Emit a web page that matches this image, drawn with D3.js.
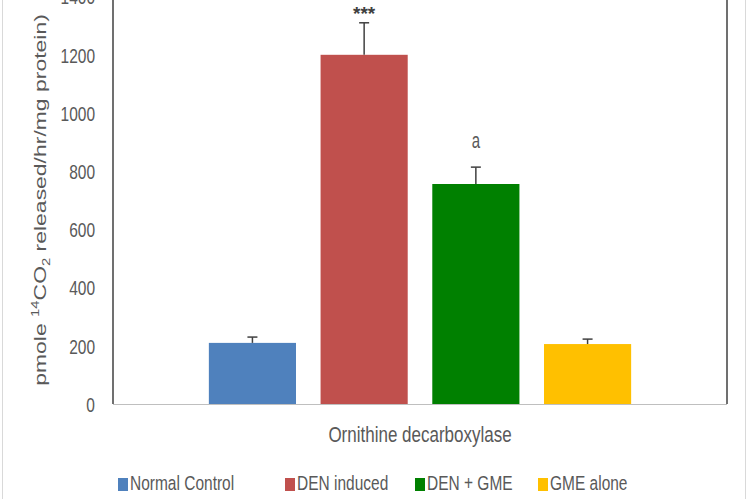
<!DOCTYPE html>
<html>
<head>
<meta charset="utf-8">
<script src="https://cdn.jsdelivr.net/npm/d3@7"></script>
<style>
  html, body { margin: 0; padding: 0; background: #fff; }
  svg { display: block; }
  text { font-family: "Liberation Sans", Arial, sans-serif; }
</style>
</head>
<body>
<svg id="chart" width="750" height="499"></svg>
<script>
// ---- data ----
const categories = ["Normal Control", "DEN induced", "DEN + GME", "GME alone"];
const values = [210, 1200, 756, 206];
const errors = [20, 110, 58, 17];
const sigLabels = ["", "***", "a", ""];
const yTicks = [0, 200, 400, 600, 800, 1000, 1200, 1400];
const groupLabel = "Ornithine decarboxylase";
const colors = ["#4f81bd", "#c0504d", "#008000", "#ffc000"];

// ---- layout ----
const W = 750, H = 499;
const plot = { left: 113, right: 727, top: -3.4, bottom: 404 };
const SY = 1.35; // vertical stretch of text in the reference
const textGray = "#595959";
const axisDark = "#404040";
const legendX = [118, 285, 415, 538];
const legendY = 490;

const svg = d3.select("#chart");

// outer frame
svg.append("rect")
  .attr("x", 2.5).attr("y", -2).attr("width", 743).attr("height", H + 4)
  .attr("fill", "none").attr("stroke", "#d9d9d9").attr("stroke-width", 1);

const x = d3.scaleBand()
  .domain(categories)
  .range([plot.left, plot.right])
  .paddingInner(0.22)
  .paddingOuter(0.858);

const y = d3.scaleLinear()
  .domain([0, 1400])
  .range([plot.bottom, plot.top]);

// y tick labels via axis
const yAxis = d3.axisLeft(y).tickValues(yTicks).tickSize(0).tickPadding(0).tickFormat(d3.format("d"));
const yg = svg.append("g").attr("transform", `translate(${plot.left - 18},0)`).call(yAxis);
yg.select(".domain").remove();
yg.selectAll(".tick text")
  .attr("fill", textGray)
  .attr("font-size", 15.5)
  .attr("font-family", '"Liberation Sans", Arial, sans-serif')
  .attr("x", 0).attr("dy", null)
  .attr("dominant-baseline", "central")
  .attr("transform", `scale(1,${SY})`)
  .attr("y", 0)
  .each(function() {
    // place tick text center at tick position while scaled
  });
// adjust: tick group is translated; scaled text centered at 0 stays at 0
yg.selectAll(".tick text").attr("y", 0);

// bars
svg.append("g").selectAll("rect")
  .data(categories)
  .join("rect")
  .attr("x", d => x(d))
  .attr("width", x.bandwidth())
  .attr("y", (d, i) => y(values[i]))
  .attr("height", (d, i) => y(0) - y(values[i]))
  .attr("fill", (d, i) => colors[i]);

// error bars (upper only)
const eg = svg.append("g").attr("stroke", axisDark).attr("stroke-width", 1.5);
categories.forEach((c, i) => {
  const cx = x(c) + x.bandwidth() / 2;
  eg.append("line").attr("x1", cx).attr("x2", cx)
    .attr("y1", y(values[i])).attr("y2", y(values[i] + errors[i]));
  eg.append("line").attr("x1", cx - 5).attr("x2", cx + 5)
    .attr("y1", y(values[i] + errors[i])).attr("y2", y(values[i] + errors[i]));
});

// significance labels
categories.forEach((c, i) => {
  const lab = sigLabels[i];
  if (!lab) return;
  const cx = x(c) + x.bandwidth() / 2;
  const top = y(values[i] + errors[i]);
  const isStar = lab.startsWith("*");
  svg.append("text")
    .attr("transform", `translate(${cx},${top - (isStar ? 3 : 19)}) scale(1,${isStar ? 1 : 1.45})`)
    .attr("text-anchor", "middle")
    .attr("font-size", isStar ? 19 : 15)
    .attr("font-weight", isStar ? "bold" : "normal")
    .attr("fill", isStar ? axisDark : textGray)
    .text(lab);
});

// axes lines
svg.append("line").attr("x1", plot.left).attr("x2", plot.right)
  .attr("y1", plot.bottom + 0.5).attr("y2", plot.bottom + 0.5)
  .attr("stroke", "#bfbfbf").attr("stroke-width", 1);
svg.append("line").attr("x1", plot.left).attr("x2", plot.left)
  .attr("y1", -5).attr("y2", plot.bottom)
  .attr("stroke", axisDark).attr("stroke-width", 1.5);
svg.append("line").attr("x1", plot.right).attr("x2", plot.right)
  .attr("y1", -5).attr("y2", plot.bottom)
  .attr("stroke", axisDark).attr("stroke-width", 1.5);

// category group label
svg.append("text")
  .attr("transform", `translate(${(plot.left + plot.right) / 2},442) scale(1,${SY})`)
  .attr("text-anchor", "middle")
  .attr("font-size", 17)
  .attr("fill", textGray)
  .text(groupLabel);

// y axis title (rotated)
const yt = svg.append("text")
  .attr("transform", `translate(46,200) rotate(-90) scale(${SY},1)`)
  .attr("text-anchor", "middle")
  .attr("font-size", 17)
  .attr("fill", textGray);
yt.append("tspan").text("pmole ");
yt.append("tspan").attr("font-size", 11).attr("dy", -7).text("14");
yt.append("tspan").attr("dy", 7).text("CO");
yt.append("tspan").attr("font-size", 11).attr("dy", 4).text("2");
yt.append("tspan").attr("dy", -4).text(" released/hr/mg protein)");

// legend
const lg = svg.append("g");
categories.forEach((c, i) => {
  lg.append("rect")
    .attr("x", legendX[i]).attr("y", legendY - 12)
    .attr("width", 10).attr("height", 13)
    .attr("fill", colors[i]);
  lg.append("text")
    .attr("transform", `translate(${legendX[i] + 12},${legendY}) scale(1,${SY * 0.95})`)
    .attr("font-size", 15.5)
    .attr("fill", textGray)
    .text(c);
});
</script>
</body>
</html>
